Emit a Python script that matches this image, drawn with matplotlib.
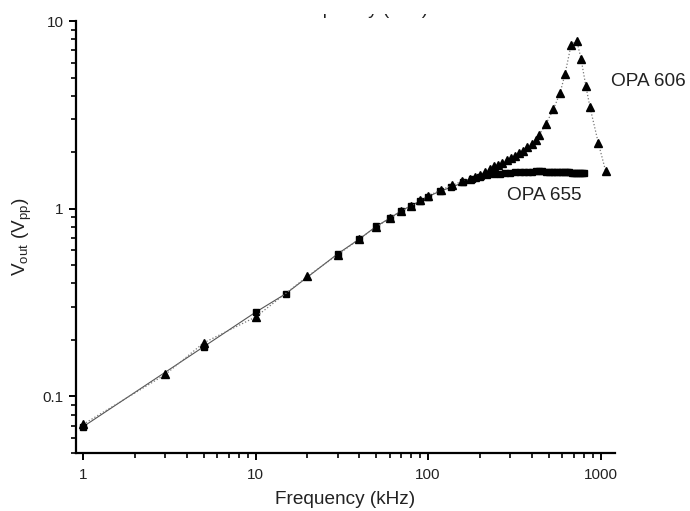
import matplotlib
matplotlib.use('Agg')
import matplotlib.pyplot as plt
from matplotlib.patches import Rectangle

plt.rcParams['font.family'] = ['Liberation Sans', 'DejaVu Sans']
plt.rcParams['mathtext.default'] = 'regular'

# OPA 606 (triangles, dotted)
f606 = [1, 3, 5, 10, 20, 30, 40, 50, 60, 70, 80, 90, 100, 119, 137, 157, 175,
        187, 200, 214, 229, 241, 255, 270, 286, 302, 321, 338, 357, 376, 399,
        421, 440, 483, 533, 582, 623, 675, 728, 771, 821, 869, 971, 1072]
v606 = [0.071, 0.131, 0.193, 0.265, 0.436, 0.57, 0.69, 0.80, 0.89, 0.975, 1.03,
        1.11, 1.17, 1.26, 1.33, 1.40, 1.44, 1.47, 1.52, 1.56, 1.63, 1.68, 1.71,
        1.76, 1.81, 1.86, 1.91, 1.98, 2.04, 2.13, 2.22, 2.33, 2.47, 2.83, 3.39,
        4.12, 5.23, 7.46, 7.86, 6.28, 4.53, 3.47, 2.24, 1.58]

# OPA 655 (squares, solid)
f655 = [1, 5, 10, 15, 30, 40, 50, 60, 70, 80, 90, 100, 117, 136, 160, 180, 200,
        220, 240, 260, 280, 300, 320, 340, 360, 380, 400, 420, 440, 460, 480,
        500, 520, 540, 560, 580, 600, 620, 640, 660, 680, 700, 720, 740, 760,
        780, 800]
v655 = [0.069, 0.184, 0.281, 0.353, 0.576, 0.69, 0.805, 0.89, 0.976, 1.04, 1.10,
        1.16, 1.24, 1.30, 1.38, 1.44, 1.48, 1.51, 1.53, 1.54, 1.55, 1.55, 1.56,
        1.56, 1.57, 1.57, 1.57, 1.58, 1.58, 1.58, 1.57, 1.57, 1.57, 1.57, 1.57,
        1.56, 1.56, 1.56, 1.56, 1.56, 1.55, 1.55, 1.55, 1.55, 1.55, 1.55, 1.55]

fig = plt.figure(figsize=(6.9, 5.11), dpi=100)
ax = fig.add_axes([76/690, 1-453/511, 539/690, 432/511])

ax.plot(f655, v655, '-', color='#555555', lw=0.8,
        marker='s', ms=4.8, mfc='black', mec='black')
ax.plot(f606, v606, ':', color='#777777', lw=0.9,
        marker='^', ms=6, mfc='black', mec='black')

ax.set_xscale('log')
ax.set_yscale('log')
ax.set_xlim(0.91, 1213)
ax.set_ylim(0.05, 10)

ax.set_xticks([1, 10, 100, 1000])
ax.set_xticklabels(['1', '10', '100', '1000'])
ax.set_yticks([0.1, 1, 10])
ax.set_yticklabels(['0.1', '1', '10'])

for s in ['top', 'right']:
    ax.spines[s].set_visible(False)
for s in ['left', 'bottom']:
    ax.spines[s].set_linewidth(1.6)
ax.tick_params(which='major', length=5, width=1.4, labelsize=11, pad=4,
               color='black', labelcolor='#222222')
ax.tick_params(which='minor', length=3.5, width=1.2, color='black')
ax.tick_params(axis='x', which='major', pad=6)

ax.set_xlabel('Frequency (kHz)', fontsize=13.7, labelpad=6, color='#222222')
ax.set_ylabel('V$_{out}$ (V$_{pp}$)', fontsize=13.7, color='#222222')
ax.yaxis.set_label_coords(-0.077, 0.5)

ax.text(0.992, 0.859, 'OPA 606', transform=ax.transAxes, fontsize=13.7,
        va='center', ha='left', clip_on=False, color='#222222')
ax.text(0.80, 0.595, 'OPA 655', transform=ax.transAxes, fontsize=13.7,
        va='center', ha='left', color='#222222')

# cropped title remnant at the very top
fig.text(358/690, 1-14/511, 'Frequency (kHz)', ha='center', va='baseline',
         fontsize=13.7, zorder=1, color='#222222')
fig.patches.append(Rectangle((0, 1-14/511), 1, 14/511, transform=fig.transFigure,
                             facecolor='white', edgecolor='none', zorder=5))

plt.savefig('out.png', dpi=100)
